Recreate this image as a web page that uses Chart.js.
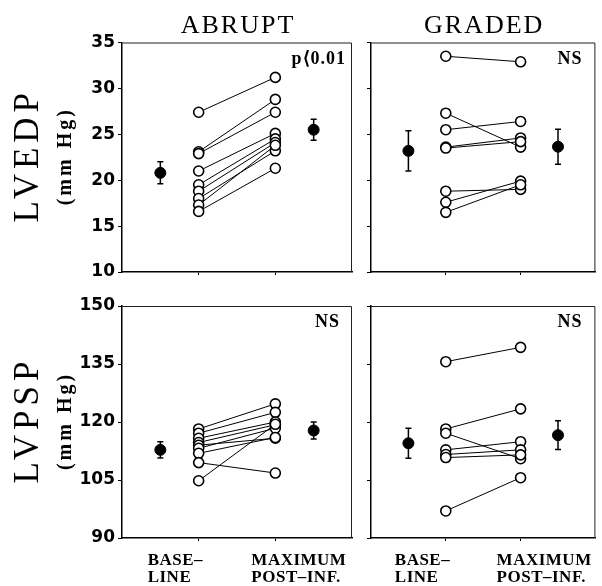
<!DOCTYPE html>
<html>
<head>
<meta charset="utf-8">
<script src="https://cdn.jsdelivr.net/npm/chart.js@4.4.1/dist/chart.umd.min.js"></script>
<style>
  html, body { margin: 0; padding: 0; background: #fff; }
  #wrap { position: relative; width: 602px; height: 586px; }
  #wrap canvas { position: absolute; left: 0; top: 0; }
</style>
</head>
<body>
<div id="wrap">
  <canvas id="abruptEdp" width="602" height="586"></canvas>
  <canvas id="gradedEdp" width="602" height="586"></canvas>
  <canvas id="abruptPsp" width="602" height="586"></canvas>
  <canvas id="gradedPsp" width="602" height="586"></canvas>
</div>
<script>
// x positions: means sit outside, individual values inside
const meanX = [1, 5];
const pointX = [2, 4];
const baseLabel = ["BASE\u2013", "LINE"];
const maxLabel = ["MAXIMUM", "POST\u2013INF."];

const edpTicks = [10, 15, 20, 25, 30, 35];
const pspTicks = [90, 105, 120, 135, 150];

// LVEDP, abrupt
const abruptEdpBase = [27.4, 23.1, 22.9, 21.0, 19.5, 18.8, 18.0, 17.3, 16.6];
const abruptEdpMax  = [31.2, 28.8, 27.4, 25.1, 24.5, 24.1, 23.2, 23.8, 21.3];
const abruptEdpMean = [20.8, 25.5];
const abruptEdpErr  = [1.2, 1.15];

// LVEDP, graded
const gradedEdpBase = [33.5, 27.3, 25.5, 23.6, 23.5, 18.8, 17.6, 16.5];
const gradedEdpMax  = [32.9, 23.6, 26.4, 24.6, 24.2, 19.0, 19.9, 19.5];
const gradedEdpMean = [23.2, 23.65];
const gradedEdpErr  = [2.2, 1.9];

// LVPSP, abrupt
const abruptPspBase = [118.2, 117.1, 115.8, 114.7, 114.0, 113.2, 111.9, 109.5, 104.8];
const abruptPspMax  = [124.7, 122.5, 120.0, 119.3, 115.8, 118.4, 116.0, 106.8, 119.4];
const abruptPspMean = [112.8, 117.8];
const abruptPspErr  = [2.1, 2.2];

// LVPSP, graded
const gradedPspBase = [135.6, 118.2, 117.1, 112.8, 111.6, 110.8, 97.0];
const gradedPspMax  = [139.3, 123.4, 110.5, 114.9, 112.8, 111.5, 105.6];
const gradedPspMean = [114.5, 116.6];
const gradedPspErr  = [3.9, 3.7];

const Y_W = 50, X_H = 6;

const deco = {
  id: "deco",
  afterDraw(chart, args, o) {
    const ctx = chart.ctx, a = chart.chartArea;
    ctx.save();
    ctx.strokeStyle = "#222";
    ctx.lineWidth = 1;
    ctx.beginPath();
    ctx.moveTo(a.left, a.top + 0.5);
    ctx.lineTo(a.right - 0.5, a.top + 0.5);
    ctx.lineTo(a.right - 0.5, a.bottom);
    ctx.stroke();
    ctx.fillStyle = "#000";
    ctx.textBaseline = "alphabetic";

    if (o.title) {
      ctx.font = '26px "Liberation Serif"';
      ctx.letterSpacing = "2px";
      ctx.textAlign = "center";
      ctx.fillText(o.title, (a.left + a.right) / 2 + 1, a.top - 10);
    }
    if (o.note) {
      ctx.font = 'bold 18px "Liberation Serif"';
      ctx.letterSpacing = "1px";
      ctx.textAlign = "right";
      ctx.fillText(o.note, a.right - o.noteInset, a.top + 21);
    }
    if (o.yTitle) {
      const cy = (a.top + a.bottom) / 2;
      ctx.save();
      ctx.translate(38, cy);
      ctx.rotate(-Math.PI / 2);
      ctx.font = '35px "Liberation Serif"';
      ctx.letterSpacing = "5px";
      ctx.textAlign = "center";
      ctx.fillText(o.yTitle, 2, 0);
      ctx.restore();
      ctx.save();
      ctx.translate(71, cy);
      ctx.rotate(-Math.PI / 2);
      ctx.font = 'bold 20px "Liberation Serif"';
      ctx.letterSpacing = "3px";
      ctx.textAlign = "center";
      ctx.fillText("(mm Hg)", 1, 0);
      ctx.restore();
    }
    if (o.catLabels) {
      const xs = chart.scales.x;
      ctx.font = 'bold 17px "Liberation Serif"';
      ctx.letterSpacing = "0.5px";
      ctx.textAlign = "left";
      const bx = xs.getPixelForValue(pointX[0]) - 51;
      const mx = xs.getPixelForValue(pointX[1]) - 24;
      ctx.fillText(baseLabel[0], bx, 565);
      ctx.fillText(baseLabel[1], bx, 582);
      ctx.fillText(maxLabel[0], mx, 565);
      ctx.fillText(maxLabel[1], mx, 582);
    }
    ctx.restore();
  }
};

function makePanel(id, p) {
  const datasets = [];
  p.base.forEach((b, i) => {
    datasets.push({
      data: [{ x: pointX[0], y: b }, { x: pointX[1], y: p.max[i] }],
      showLine: true, borderColor: "#000", borderWidth: 1,
      pointRadius: 0, order: 4
    });
  });
  [p.base, p.max].forEach((vals, k) => {
    datasets.push({
      data: vals.map(v => ({ x: pointX[k], y: v })),
      pointRadius: 5, pointBackgroundColor: "#fff",
      pointBorderColor: "#000", pointBorderWidth: 1.6, order: 1
    });
  });
  p.mean.forEach((m, k) => {
    datasets.push({
      data: [{ x: meanX[k], y: m - p.err[k] }, { x: meanX[k], y: m + p.err[k] }],
      showLine: true, borderColor: "#000", borderWidth: 1.5,
      pointStyle: "line", pointRadius: 3, pointBorderColor: "#000",
      pointBorderWidth: 1.5, order: 2
    });
  });
  datasets.push({
    data: p.mean.map((m, k) => ({ x: meanX[k], y: m })),
    pointRadius: 5.5, pointBackgroundColor: "#000",
    pointBorderColor: "#000", order: 0
  });

  return new Chart(document.getElementById(id), {
    type: "scatter",
    data: { datasets },
    plugins: [deco],
    options: {
      responsive: false,
      animation: false,
      devicePixelRatio: 1,
      layout: {
        padding: {
          left: p.L - Y_W, right: 602 - p.R,
          top: p.T, bottom: 586 - p.B - X_H
        }
      },
      plugins: {
        legend: { display: false },
        tooltip: { enabled: false },
        deco: p.deco
      },
      scales: {
        x: {
          type: "linear", min: 0, max: 6,
          afterBuildTicks: s => { s.ticks = pointX.map(v => ({ value: v })); },
          afterFit: s => { s.height = X_H; },
          ticks: { display: false },
          grid: { drawOnChartArea: false, tickLength: 3, color: "#000" },
          border: { color: "#000", width: 1.5 }
        },
        y: {
          min: p.ticks[0], max: p.ticks[p.ticks.length - 1],
          afterBuildTicks: s => { s.ticks = p.ticks.map(v => ({ value: v })); },
          afterFit: s => { s.width = Y_W; },
          ticks: {
            display: p.labels, color: "#000", padding: 3,
            font: { family: '"DejaVu Sans"', size: 17, weight: "bold" }
          },
          grid: { drawOnChartArea: false, tickLength: 4, color: "#000" },
          border: { color: "#000", width: 1.5 }
        }
      }
    }
  });
}

makePanel("abruptEdp", {
  base: abruptEdpBase, max: abruptEdpMax, mean: abruptEdpMean, err: abruptEdpErr,
  ticks: edpTicks, labels: true, L: 122, R: 352, T: 42.5, B: 272,
  deco: { title: "ABRUPT", note: "p\u27E80.01", noteInset: 6, yTitle: "LVEDP" }
});
makePanel("gradedEdp", {
  base: gradedEdpBase, max: gradedEdpMax, mean: gradedEdpMean, err: gradedEdpErr,
  ticks: edpTicks, labels: false, L: 371, R: 601, T: 42.5, B: 272,
  deco: { title: "GRADED", note: "NS", noteInset: 13 }
});
makePanel("abruptPsp", {
  base: abruptPspBase, max: abruptPspMax, mean: abruptPspMean, err: abruptPspErr,
  ticks: pspTicks, labels: true, L: 122, R: 352, T: 306, B: 538,
  deco: { note: "NS", noteInset: 12, yTitle: "LVPSP", catLabels: true }
});
makePanel("gradedPsp", {
  base: gradedPspBase, max: gradedPspMax, mean: gradedPspMean, err: gradedPspErr,
  ticks: pspTicks, labels: false, L: 371, R: 601, T: 306, B: 538,
  deco: { note: "NS", noteInset: 13, catLabels: true }
});
</script>
</body>
</html>
